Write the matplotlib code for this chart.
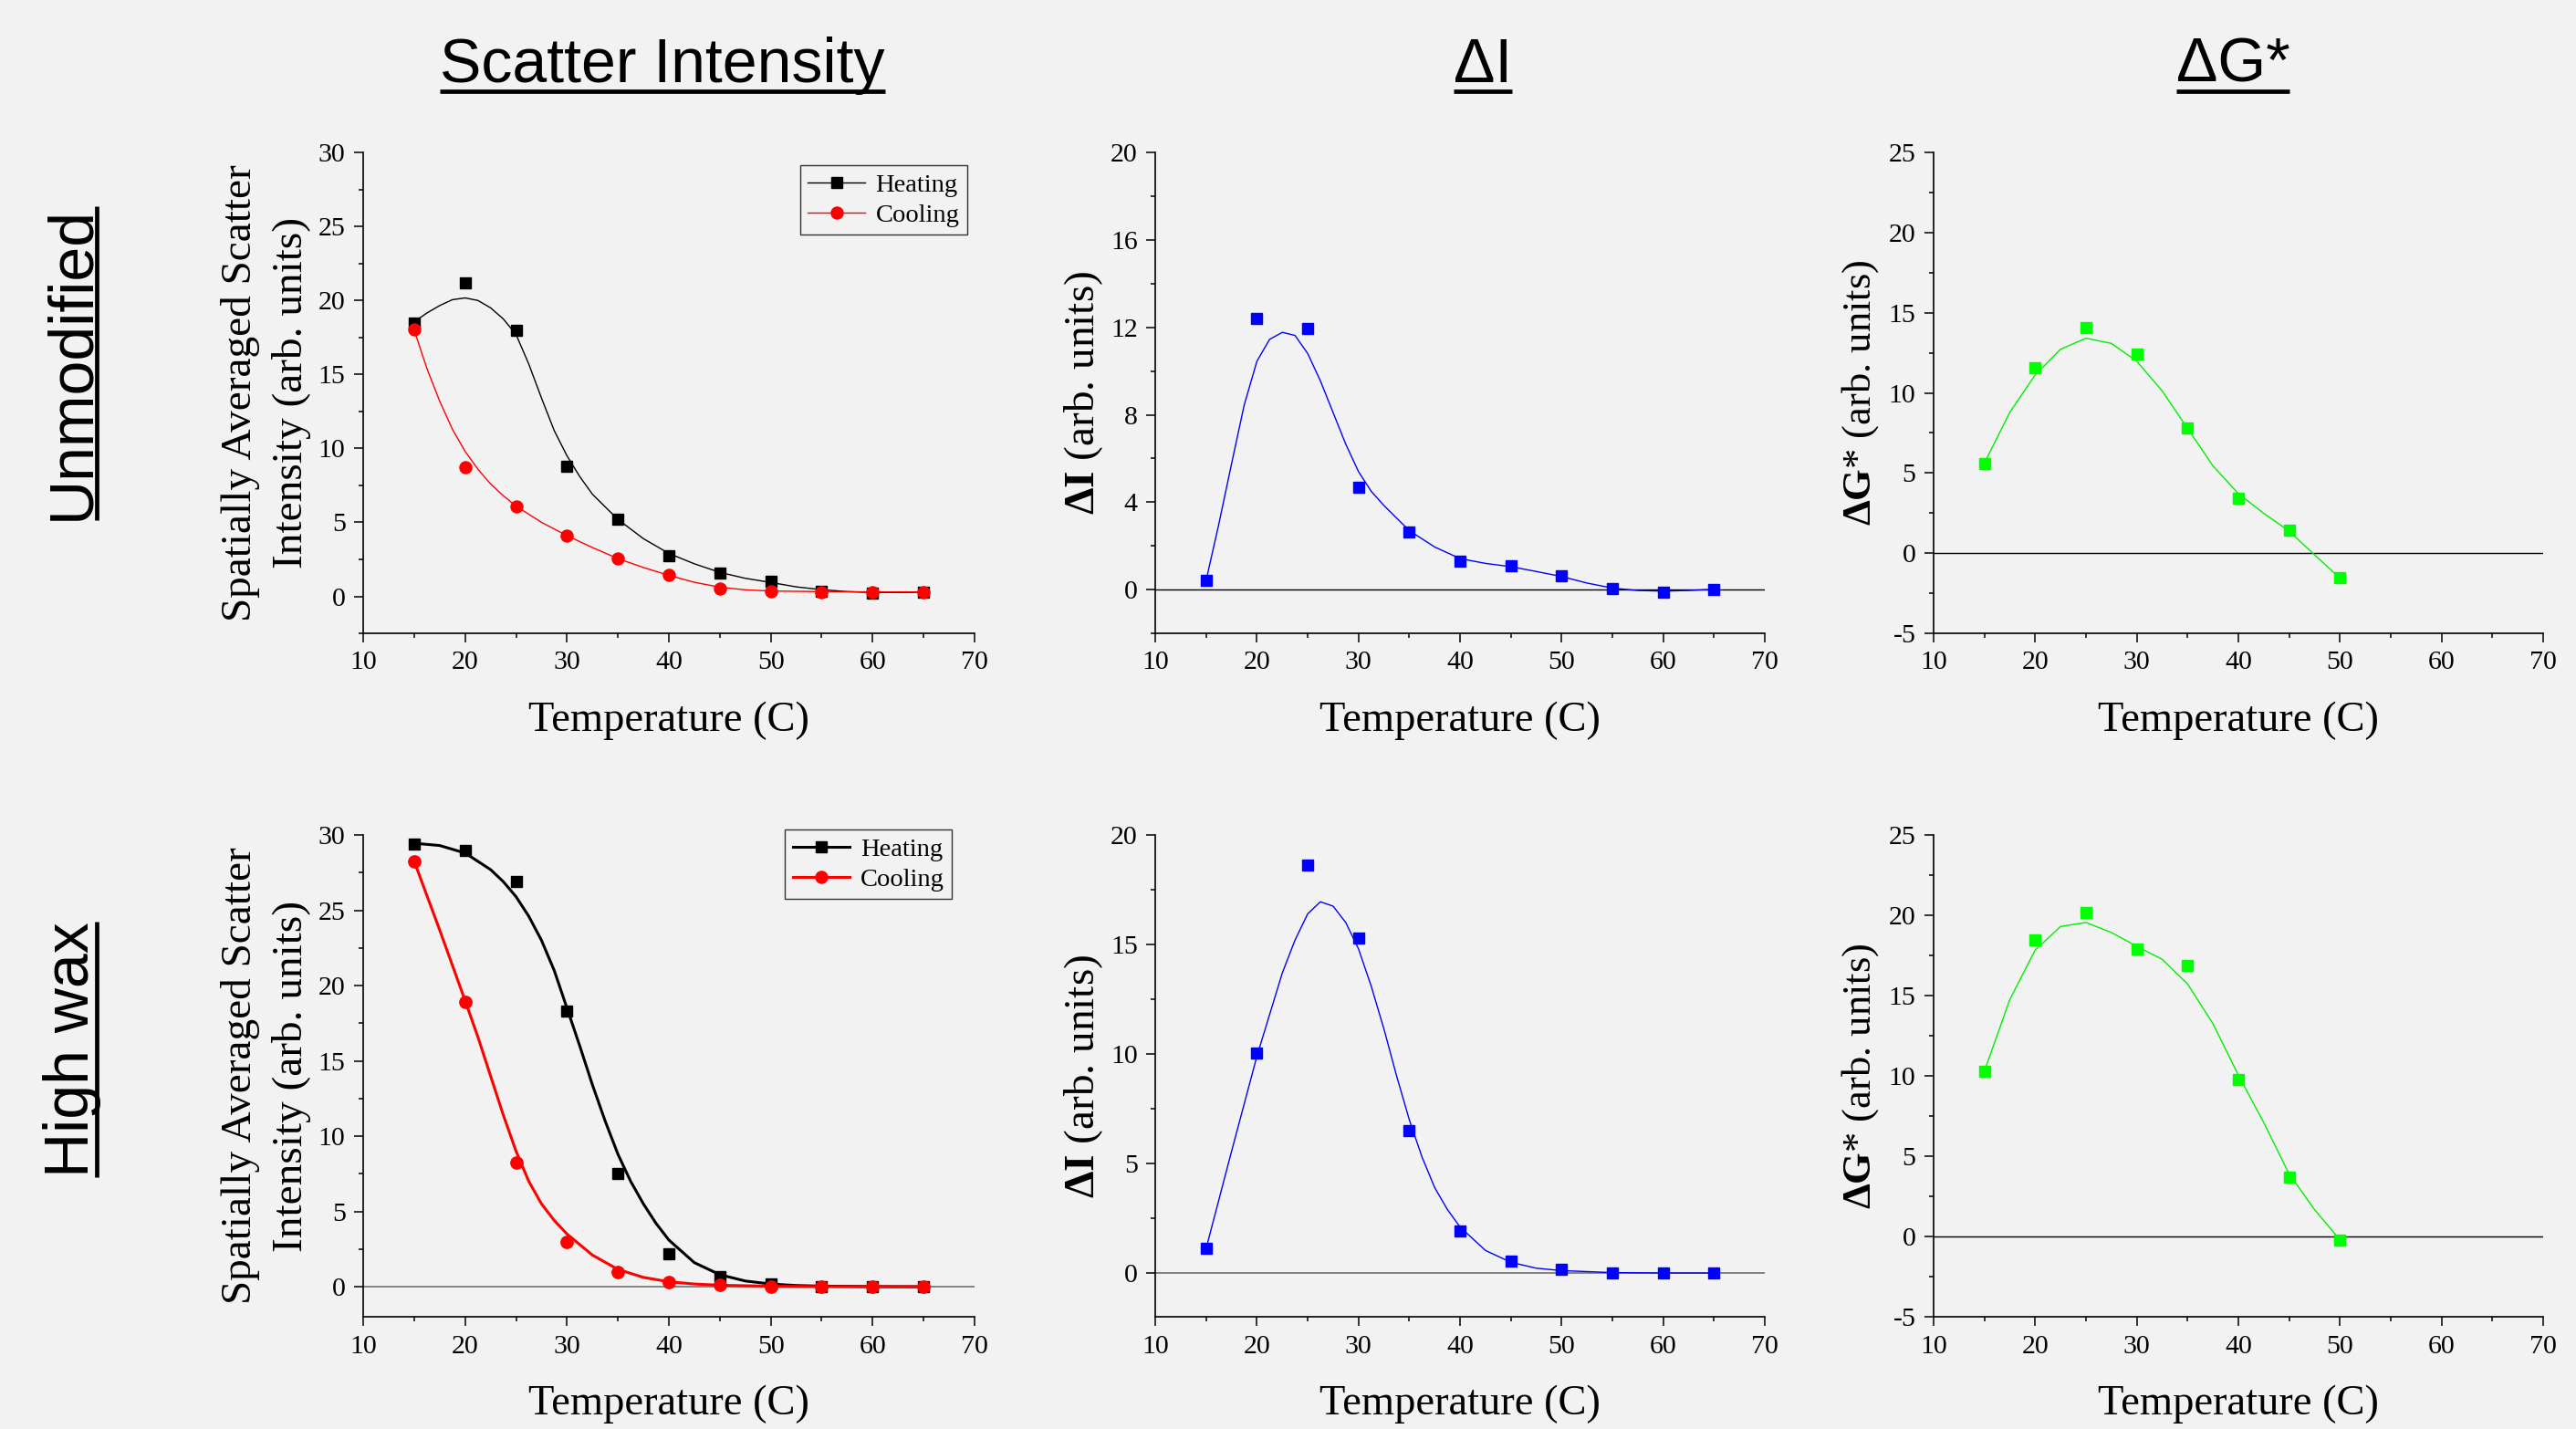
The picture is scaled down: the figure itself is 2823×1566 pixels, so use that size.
import numpy as np
import matplotlib
matplotlib.use("Agg")
import matplotlib.pyplot as plt
from matplotlib.lines import Line2D
from matplotlib.ticker import MultipleLocator

plt.rcParams['font.family'] = ['Liberation Serif', 'DejaVu Serif']
plt.rcParams['mathtext.fontset'] = 'custom'
plt.rcParams['mathtext.rm'] = 'Liberation Serif'
plt.rcParams['mathtext.bf'] = 'Liberation Serif:bold'
plt.rcParams['axes.unicode_minus'] = False

BG = '#f2f2f2'

# ---- measured points ----
temps = [15, 20, 25, 30, 35, 40, 45, 50, 55, 60, 65]
temps_g = [15, 20, 25, 30, 35, 40, 45, 50]

unmod_heat = [18.5, 21.16, 17.98, 8.76, 5.21, 2.73, 1.60, 0.99, 0.33, 0.22, 0.29]
unmod_cool = [18.03, 8.74, 6.06, 4.09, 2.56, 1.42, 0.55, 0.35, 0.29, 0.29, 0.29]
wax_heat = [29.39, 29.0, 26.92, 18.33, 7.53, 2.21, 0.68, 0.21, 0.03, 0.0, 0.0]
wax_cool = [28.26, 18.91, 8.27, 3.0, 0.97, 0.32, 0.10, 0.03, 0.0, 0.0, 0.0]

unmod_dI = [0.42, 12.42, 11.93, 4.68, 2.64, 1.28, 1.08, 0.63, 0.05, -0.13, 0.02]
wax_dI = [1.12, 10.06, 18.63, 15.3, 6.52, 1.92, 0.54, 0.16, 0.0, 0.0, 0.0]

unmod_dG = [5.62, 11.56, 14.08, 12.43, 7.79, 3.45, 1.43, -1.55]
wax_dG = [10.28, 18.49, 20.19, 17.9, 16.86, 9.76, 3.67, -0.2]

# ---- fitted curves ----
fx_uh = [15, 16.25, 17.5, 18.75, 20, 21.25, 22.5, 23.75, 25, 26.25, 27.5, 28.75, 30, 31.25, 32.5, 35, 37.5, 40, 42.5, 45, 47.5, 50, 52.5, 55, 57.5, 60, 62.5, 65]
fy_uh = [18.55, 19.15, 19.65, 20.05, 20.17, 20.0, 19.5, 18.75, 17.7, 15.7, 13.4, 11.2, 9.5, 8.1, 6.9, 5.2, 3.9, 2.9, 2.2, 1.62, 1.22, 0.94, 0.64, 0.45, 0.32, 0.26, 0.26, 0.28]
fx_uc = [15, 16.25, 17.5, 18.75, 20, 21.25, 22.5, 23.75, 25, 27.5, 30, 32.5, 35, 37.5, 40, 42.5, 45, 47.5, 50, 55, 60, 65]
fy_uc = [18.0, 15.4, 13.2, 11.3, 9.8, 8.6, 7.6, 6.8, 6.1, 5.0, 4.1, 3.3, 2.55, 1.95, 1.42, 0.95, 0.62, 0.44, 0.36, 0.32, 0.30, 0.30]

fx_wh = [15, 17.5, 20, 22.5, 23.75, 25, 26.25, 27.5, 28.75, 30, 31.25, 32.5, 33.75, 35, 36.25, 37.5, 38.75, 40, 42.5, 45, 47.5, 50, 52.5, 55, 60, 65]
fy_wh = [29.45, 29.3, 28.8, 27.7, 26.9, 25.9, 24.6, 23.0, 21.0, 18.5, 16.0, 13.4, 11.0, 8.8, 7.0, 5.5, 4.2, 3.1, 1.6, 0.8, 0.38, 0.18, 0.08, 0.04, 0.01, 0.0]
fx_wc = [15, 17.5, 20, 21.25, 22.5, 23.75, 25, 26.25, 27.5, 28.75, 30, 32.5, 35, 37.5, 40, 42.5, 45, 50, 55, 60, 65]
fy_wc = [28.26, 23.7, 19.0, 16.6, 14.0, 11.4, 9.0, 7.0, 5.5, 4.4, 3.5, 2.1, 1.15, 0.62, 0.33, 0.18, 0.10, 0.03, 0.01, 0.0, 0.0]

fx_ui = [15, 16.25, 17.5, 18.75, 20, 21.25, 22.5, 23.75, 25, 26.25, 27.5, 28.75, 30, 31.25, 32.5, 35, 37.5, 40, 42.5, 45, 47.5, 50, 52.5, 55, 57.5, 60, 62.5, 65]
fy_ui = [0.42, 3.0, 5.75, 8.45, 10.45, 11.45, 11.77, 11.63, 10.8, 9.55, 8.1, 6.65, 5.4, 4.5, 3.85, 2.7, 1.95, 1.42, 1.2, 1.05, 0.83, 0.6, 0.3, 0.07, -0.04, -0.07, -0.04, 0.02]
fx_wi = [15, 17.5, 20, 22.5, 23.75, 25, 26.25, 27.5, 28.75, 30, 31.25, 32.5, 33.75, 35, 36.25, 37.5, 38.75, 40, 42.5, 45, 47.5, 50, 55, 60, 65]
fy_wi = [1.12, 5.55, 9.9, 13.7, 15.2, 16.4, 16.95, 16.75, 16.0, 14.8, 13.1, 11.15, 9.0, 7.0, 5.3, 3.9, 2.9, 2.1, 1.03, 0.49, 0.22, 0.11, 0.02, 0.0, 0.0]

fx_ug = [15, 17.5, 20, 22.5, 25, 27.5, 30, 32.5, 35, 37.5, 40, 42.5, 45, 47.5, 50]
fy_ug = [5.62, 8.78, 11.12, 12.72, 13.41, 13.09, 11.98, 10.13, 7.79, 5.45, 3.72, 2.49, 1.38, -0.1, -1.55]
fx_wg = [15, 17.5, 20, 22.5, 25, 27.5, 30, 32.5, 35, 37.5, 40, 42.5, 45, 47.5, 50]
fy_wg = [10.28, 14.74, 17.83, 19.3, 19.55, 18.93, 18.07, 17.26, 15.73, 13.26, 10.06, 7.1, 3.9, 1.68, -0.2]

W, H = 2823, 1566
fig = plt.figure(figsize=(W / 100, H / 100), dpi=100, facecolor=BG)

cols = [(0.141, 0.2373), (0.4485, 0.2366), (0.7506, 0.2366)]
rows = [(0.5568, 0.3365), (0.0785, 0.3372)]


def style(ax, ylim, ymaj):
    ax.set_facecolor(BG)
    for s in ['top', 'right']:
        ax.spines[s].set_visible(False)
    for s in ['left', 'bottom']:
        ax.spines[s].set_linewidth(1.2)
    ax.set_xlim(10, 70)
    ax.set_ylim(*ylim)
    ax.xaxis.set_major_locator(MultipleLocator(10))
    ax.xaxis.set_minor_locator(MultipleLocator(5))
    ax.yaxis.set_major_locator(MultipleLocator(ymaj))
    ax.yaxis.set_minor_locator(MultipleLocator(ymaj / 2))
    ax.tick_params(which='major', direction='out', length=7, width=1.1, labelsize=21.5, pad=7)
    ax.tick_params(which='minor', direction='out', length=3.6, width=1.1)
    ax.set_xlabel('Temperature (C)', fontsize=33.5, labelpad=21)


axs = [[fig.add_axes([c[0], r[0], c[1], r[1]]) for c in cols] for r in rows]
scat_lab = 'Spatially Averaged Scatter\nIntensity (arb. units)'

# scatter intensity
ax = axs[0][0]
style(ax, (-2.5, 30), 5)
ax.plot(fx_uh, fy_uh, color='k', lw=1.0)
ax.plot(fx_uc, fy_uc, color='r', lw=1.0)
ax.plot(temps, unmod_heat, 's', color='k', ms=8.6, ls='none')
ax.plot(temps, unmod_cool, 'o', color='r', ms=9.4, ls='none')
ax.set_ylabel(scat_lab, fontsize=34, labelpad=6, linespacing=1.38)
hnd = [Line2D([], [], color='k', marker='s', ms=8.6, lw=1.0),
       Line2D([], [], color='r', marker='o', ms=9.4, lw=1.0)]
ax.legend(hnd, ['Heating', 'Cooling'], loc='upper right', bbox_to_anchor=(0.988, 0.973),
          fontsize=20.5, frameon=True, fancybox=False, edgecolor='#333333', facecolor=BG,
          framealpha=1, handlelength=2.2, labelspacing=0.25, borderpad=0.3, handletextpad=0.4,
          borderaxespad=0)

ax = axs[1][0]
style(ax, (-2, 30), 5)
ax.axhline(0, color='#707070', lw=1.2, zorder=1)
ax.plot(fx_wh, fy_wh, color='k', lw=2.2)
ax.plot(fx_wc, fy_wc, color='r', lw=2.2)
ax.plot(temps, wax_heat, 's', color='k', ms=8.8, ls='none')
ax.plot(temps, wax_cool, 'o', color='r', ms=9.6, ls='none')
ax.set_ylabel(scat_lab, fontsize=34, labelpad=6, linespacing=1.38)
hnd = [Line2D([], [], color='k', marker='s', ms=8.6, lw=2.2),
       Line2D([], [], color='r', marker='o', ms=9.4, lw=2.2)]
ax.legend(hnd, ['Heating', 'Cooling'], loc='upper right', bbox_to_anchor=(0.963, 1.011),
          fontsize=20.5, frameon=True, fancybox=False, edgecolor='#333333', facecolor=BG,
          framealpha=1, handlelength=2.2, labelspacing=0.25, borderpad=0.3, handletextpad=0.4,
          borderaxespad=0)

# delta I
ax = axs[0][1]
style(ax, (-2, 20), 4)
ax.axhline(0, color='k', lw=1.0, zorder=1)
ax.plot(fx_ui, fy_ui, color='#0000ff', lw=1.0)
ax.plot(temps, unmod_dI, 's', color='#0000ff', ms=8, ls='none')
ax.set_ylabel(r'$\mathbf{\Delta I}$ (arb. units)', fontsize=34, labelpad=4)

ax = axs[1][1]
style(ax, (-2, 20), 5)
ax.axhline(0, color='#707070', lw=1.2, zorder=1)
ax.plot(fx_wi, fy_wi, color='#0000ff', lw=1.0)
ax.plot(temps, wax_dI, 's', color='#0000ff', ms=8, ls='none')
ax.set_ylabel(r'$\mathbf{\Delta I}$ (arb. units)', fontsize=34, labelpad=4)

# delta G*
for r, (gx, gy, pv) in enumerate([(fx_ug, fy_ug, unmod_dG), (fx_wg, fy_wg, wax_dG)]):
    ax = axs[r][2]
    style(ax, (-5, 25), 5)
    ax.axhline(0, color='k', lw=1.0, zorder=1)
    ax.plot(gx, gy, color='#00ee00', lw=1.0)
    ax.plot(temps_g, pv, 's', color='#00ff00', ms=8.3, ls='none')
    ax.set_ylabel(r'$\mathbf{\Delta G}$* (arb. units)', fontsize=32, labelpad=6)

# column and row headings
sans = ['Liberation Sans', 'DejaVu Sans']
heads = []
for txt, x in [('Scatter Intensity', 0.2572), ('ΔI', 0.5756), ('ΔG*', 0.8668)]:
    heads.append(fig.text(x, 1 - 90 / H, txt, family=sans, fontsize=49, ha='center', va='baseline'))
rowt = []
for txt, y in [('Unmodified', 1 - 398 / H), ('High wax', 1 - 1150 / H)]:
    rowt.append(fig.text(97 / W, y, txt, family=sans, fontsize=49, rotation=90,
                         rotation_mode='anchor', ha='center', va='baseline'))

fig.canvas.draw()
rend = fig.canvas.get_renderer()
for t in heads:
    bb = t.get_window_extent(rend)
    yy = 1 - 100 / H
    fig.add_artist(Line2D([bb.x0 / W, bb.x1 / W], [yy, yy], transform=fig.transFigure,
                          color='k', lw=3.4, solid_capstyle='butt'))
for t in rowt:
    bb = t.get_window_extent(rend)
    xx = 106 / W
    fig.add_artist(Line2D([xx, xx], [bb.y0 / H, bb.y1 / H], transform=fig.transFigure,
                          color='k', lw=3.4, solid_capstyle='butt'))

fig.savefig('out.png', dpi=100, facecolor=BG)
